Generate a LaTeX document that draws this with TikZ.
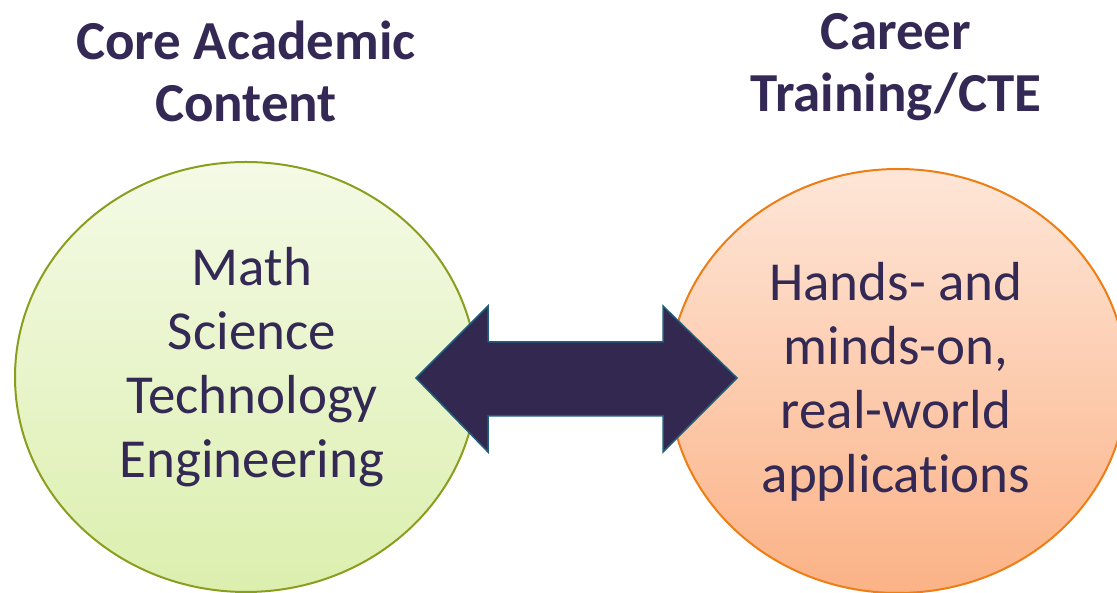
\documentclass[tikz,border=0pt]{standalone}
\usepackage{fontspec}
\setmainfont{Carlito}[Ligatures=NoCommon]
\usepackage{tikz}
\usetikzlibrary{positioning}
\usepackage{xcolor}

\definecolor{inkpurple}{RGB}{51,41,84}
\definecolor{arrowfill}{RGB}{50,40,80}
\definecolor{arrowedge}{RGB}{33,94,126}
\definecolor{greentop}{RGB}{244,250,230}
\definecolor{greenbot}{RGB}{220,239,174}
\definecolor{greenedge}{RGB}{138,158,30}
\definecolor{peachtop}{RGB}{254,230,216}
\definecolor{peachbot}{RGB}{251,178,134}
\definecolor{orangeedge}{RGB}{238,125,20}

\begin{document}
\begin{tikzpicture}[
    x=1pt, y=1pt,
    heading/.style={font=\fontsize{55}{62}\selectfont\bfseries, text=inkpurple, align=center, inner sep=0pt, anchor=base},
    bodytext/.style={font=\fontsize{55}{64}\selectfont, text=inkpurple, align=center, inner sep=0pt, anchor=base},
    dblarrow/.style={fill=arrowfill, draw=arrowedge, line width=1.5pt, line join=miter}
]
\useasboundingbox (0,0) rectangle (1117,593);
\clip (0,0) rectangle (1117,593);

% Circles
\fill[top color=greentop, bottom color=greenbot, draw=greenedge, line width=2pt]
    (246,216) ellipse [x radius=231, y radius=215];
\fill[top color=peachtop, bottom color=peachbot, draw=orangeedge, line width=2pt]
    (898,212) ellipse [x radius=229, y radius=212];

% Headings (base = last line)
\node[heading] (core) at (246,471) {Core Academic\\Content};
\node[heading] (career) at (896,481) {Career\\Training/CTE};

% Circle texts
\node[bodytext] (stem) at (252,115) {Math\\Science\\Technology\\Engineering};
\node[bodytext] (hands) at (896,100) {Hands- and\\minds-on,\\real-world\\applications};

% Double arrow
\draw[dblarrow] (416,215) -- (488,287) -- (488,251) -- (663,251) -- (663,287)
    -- (737,215) -- (663,141) -- (663,177) -- (488,177) -- (488,141) -- cycle;

\end{tikzpicture}
\end{document}
